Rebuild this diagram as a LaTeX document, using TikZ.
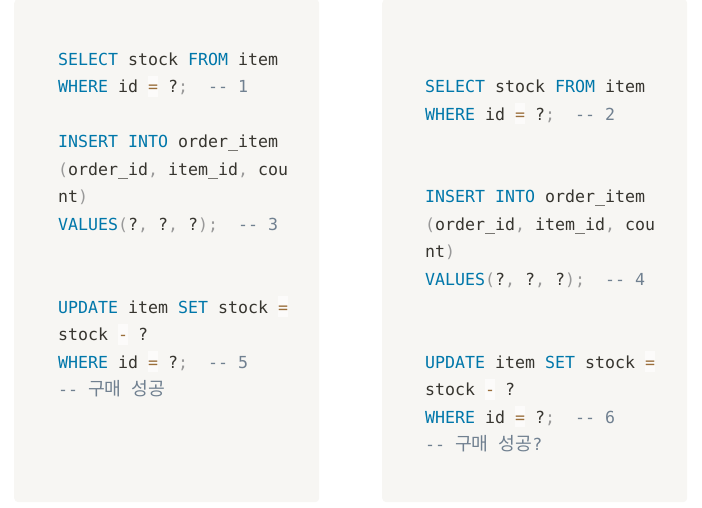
\documentclass[tikz,border=0pt]{standalone}
\usepackage{fontspec}
\setmonofont{DejaVu Sans Mono}
\newfontfamily\krfont[Scale=1.1]{Noto Sans CJK KR}
\definecolor{panel}{HTML}{F7F6F3}
\definecolor{kwc}{HTML}{0077AA}
\definecolor{txc}{HTML}{37352F}
\definecolor{puc}{HTML}{999999}
\definecolor{opc}{HTML}{9A6E3A}
\definecolor{opbg}{HTML}{FCFBFA}
\definecolor{cmc}{HTML}{708090}
\newcommand\sqkw[1]{\textcolor{kwc}{#1}}
\newcommand\sqpu[1]{\textcolor{puc}{#1}}
\newcommand\sqcm[1]{\textcolor{cmc}{#1}}
\newcommand\sqop[1]{{\setlength{\fboxsep}{0pt}\colorbox{opbg}{\rule[-4pt]{0pt}{21pt}\textcolor{opc}{#1}}}}
\begin{document}
\begin{tikzpicture}[x=1pt,y=-1pt,
  codeline/.style={anchor=base west, inner sep=0pt, font=\ttfamily\fontsize{16.6}{20}\selectfont, text=txc},
  panelbox/.style={fill=panel, draw=none, rounded corners=4pt, anchor=north west, minimum width=305pt, minimum height=503pt, inner sep=0pt}]
\useasboundingbox (0,0) rectangle (702,508);
\node[panelbox] (leftpanel) at (14,-1) {};
\node[panelbox] (rightpanel) at (382,-1) {};
% left panel
\node[codeline] (l1) at (58,65.5) {\sqkw{SELECT} stock \sqkw{FROM} item};
\node[codeline] (l2) at (58,93) {\sqkw{WHERE} id \sqop{=} ?\sqpu{;}\ \ \sqcm{-- 1}};
\node[codeline] (l3) at (58,148) {\sqkw{INSERT} \sqkw{INTO} order\_item};
\node[codeline] (l4) at (58,175.5) {\sqpu{(}order\_id\sqpu{,} item\_id\sqpu{,} cou};
\node[codeline] (l5) at (58,203) {nt\sqpu{)}};
\node[codeline] (l6) at (58,230.5) {\sqkw{VALUES}\sqpu{(}?\sqpu{,} ?\sqpu{,} ?\sqpu{);}\ \ \sqcm{-- 3}};
\node[codeline] (l7) at (58,313) {\sqkw{UPDATE} item \sqkw{SET} stock \sqop{=}};
\node[codeline] (l8) at (58,340.5) {stock \sqop{-} ?};
\node[codeline] (l9) at (58,368) {\sqkw{WHERE} id \sqop{=} ?\sqpu{;}\ \ \sqcm{-- 5}};
\node[codeline] (l10) at (58,395.5) {\sqcm{-- {\krfont 구매}\ {\krfont 성공}}};
% right panel
\node[codeline] (r1) at (425,93) {\sqkw{SELECT} stock \sqkw{FROM} item};
\node[codeline] (r2) at (425,120.5) {\sqkw{WHERE} id \sqop{=} ?\sqpu{;}\ \ \sqcm{-- 2}};
\node[codeline] (r3) at (425,203) {\sqkw{INSERT} \sqkw{INTO} order\_item};
\node[codeline] (r4) at (425,230.5) {\sqpu{(}order\_id\sqpu{,} item\_id\sqpu{,} cou};
\node[codeline] (r5) at (425,258) {nt\sqpu{)}};
\node[codeline] (r6) at (425,285.5) {\sqkw{VALUES}\sqpu{(}?\sqpu{,} ?\sqpu{,} ?\sqpu{);}\ \ \sqcm{-- 4}};
\node[codeline] (r7) at (425,368) {\sqkw{UPDATE} item \sqkw{SET} stock \sqop{=}};
\node[codeline] (r8) at (425,395.5) {stock \sqop{-} ?};
\node[codeline] (r9) at (425,423) {\sqkw{WHERE} id \sqop{=} ?\sqpu{;}\ \ \sqcm{-- 6}};
\node[codeline] (r10) at (425,450.5) {\sqcm{-- {\krfont 구매}\ {\krfont 성공}?}};
\end{tikzpicture}
\end{document}
